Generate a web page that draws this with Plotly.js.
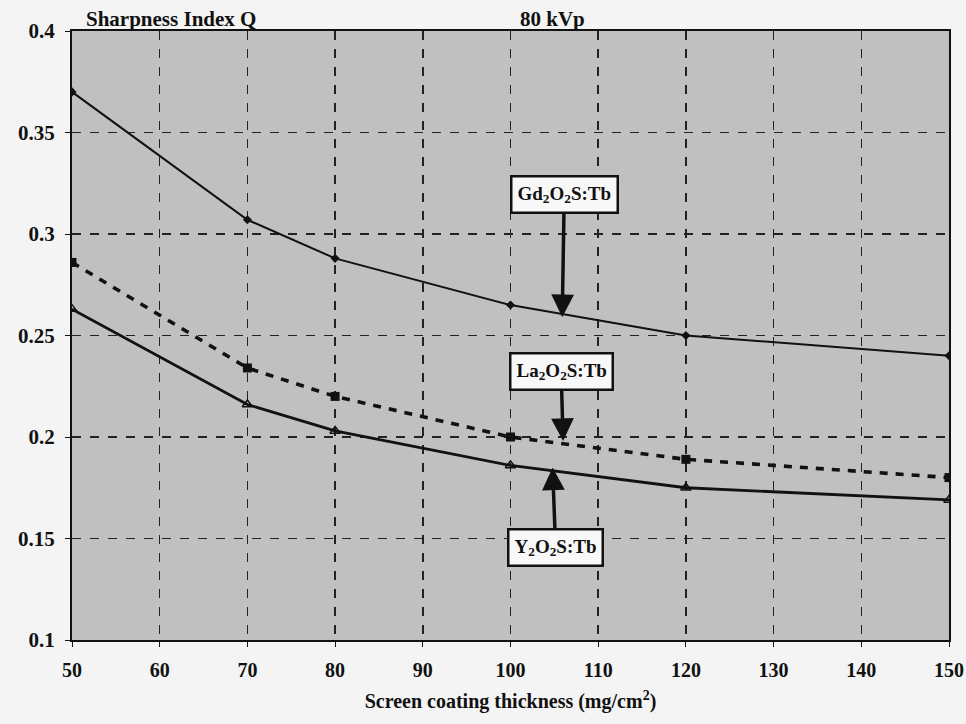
<!DOCTYPE html>
<html>
<head>
<meta charset="utf-8">
<script src="https://cdn.plot.ly/plotly-3.0.1.min.js"></script>
<style>html,body{margin:0;padding:0;background:#f4f4f4;}#chart{width:966px;height:724px;}</style>
</head>
<body>
<div id="chart"></div>
<script>
// Data
const thickness = [50, 70, 80, 100, 120, 150];
const gd2o2s = [0.370, 0.307, 0.288, 0.265, 0.250, 0.240];
const la2o2s = [0.286, 0.234, 0.220, 0.200, 0.189, 0.180];
const y2o2s  = [0.263, 0.216, 0.203, 0.186, 0.175, 0.169];
const xTicks = [50, 60, 70, 80, 90, 100, 110, 120, 130, 140, 150];
const yTicks = [0.1, 0.15, 0.2, 0.25, 0.3, 0.35, 0.4];
const yTickText = ['0.1', '0.15', '0.2', '0.25', '0.3', '0.35', '0.4'];
const seriesNames = ['Gd<sub>2</sub>O<sub>2</sub>S:Tb', 'La<sub>2</sub>O<sub>2</sub>S:Tb', 'Y<sub>2</sub>O<sub>2</sub>S:Tb'];
// label arrow tips (data coords)
const labelTipX = [105.9, 106.0, 104.8];
const labelTipY = [0.259, 0.198, 0.185];

const serif = 'Liberation Serif, Times New Roman, serif';

const traces = [
  {x: thickness, y: gd2o2s, name: seriesNames[0], mode: 'lines+markers',
   line: {color: '#111', width: 2}, marker: {symbol: 'diamond', size: 7, color: '#111'}},
  {x: thickness, y: la2o2s, name: seriesNames[1], mode: 'lines+markers',
   line: {color: '#111', width: 3.6, dash: '8px,8px'}, marker: {symbol: 'square', size: 9, color: '#111'}},
  {x: thickness, y: y2o2s, name: seriesNames[2], mode: 'lines+markers',
   line: {color: '#111', width: 2.8}, marker: {symbol: 'triangle-up-open', size: 9, color: '#111', line: {width: 1.5}}}
];

const boxOffsets = [[2, -123], [-2, -70], [3, 80]];
const annotations = seriesNames.map((n, i) => ({
  x: labelTipX[i], y: labelTipY[i], xref: 'x', yref: 'y',
  text: '<b>' + n + '</b>', showarrow: true,
  ax: boxOffsets[i][0], ay: boxOffsets[i][1],
  arrowhead: 2, arrowsize: 1.3, arrowwidth: 3.5, arrowcolor: '#111',
  font: {family: serif, size: 19, color: '#111'},
  bgcolor: '#f8f8f8', bordercolor: '#111', borderwidth: 2.5, borderpad: 5
}));
annotations.push(
  {xref: 'paper', yref: 'paper', x: 0.0, y: 1, yanchor: 'bottom', xanchor: 'left', xshift: 12, yshift: -2,
   text: '<b>Sharpness Index Q</b>', showarrow: false, font: {family: serif, size: 21, color: '#111'}},
  {xref: 'paper', yref: 'paper', x: 0.548, y: 1, yanchor: 'bottom', xanchor: 'center', yshift: -2,
   text: '<b>80 kVp</b>', showarrow: false, font: {family: serif, size: 21, color: '#111'}}
);

const layout = {
  width: 966, height: 724,
  margin: {l: 72, r: 17, t: 31, b: 84},
  paper_bgcolor: '#f4f4f4', plot_bgcolor: '#c0c0c0',
  showlegend: false,
  xaxis: {
    range: [50, 150], tickvals: xTicks, ticks: 'outside', ticklen: 5, tickcolor: '#111',
    showline: true, linecolor: '#111', linewidth: 2, mirror: true,
    showgrid: true, gridcolor: '#222', gridwidth: 1.5, griddash: 'dash', zeroline: false,
    tickfont: {family: serif, size: 20, color: '#111', weight: 'bold'}, ticklabelstandoff: 6,
    title: {text: '<b>Screen coating thickness (mg/cm<sup>2</sup>)</b>', font: {family: serif, size: 20, color: '#111'}, standoff: 14}
  },
  yaxis: {
    range: [0.1, 0.4], tickvals: yTicks, ticktext: yTickText, ticks: 'outside', ticklen: 5, tickcolor: '#111',
    showline: true, linecolor: '#111', linewidth: 2, mirror: true,
    showgrid: true, gridcolor: '#222', gridwidth: 1.5, griddash: 'dash', zeroline: false,
    tickfont: {family: serif, size: 21, color: '#111', weight: 'bold'}, ticklabelstandoff: 6
  },
  annotations: annotations
};

Plotly.newPlot('chart', traces, layout, {displayModeBar: false, staticPlot: true});
</script>
</body>
</html>
